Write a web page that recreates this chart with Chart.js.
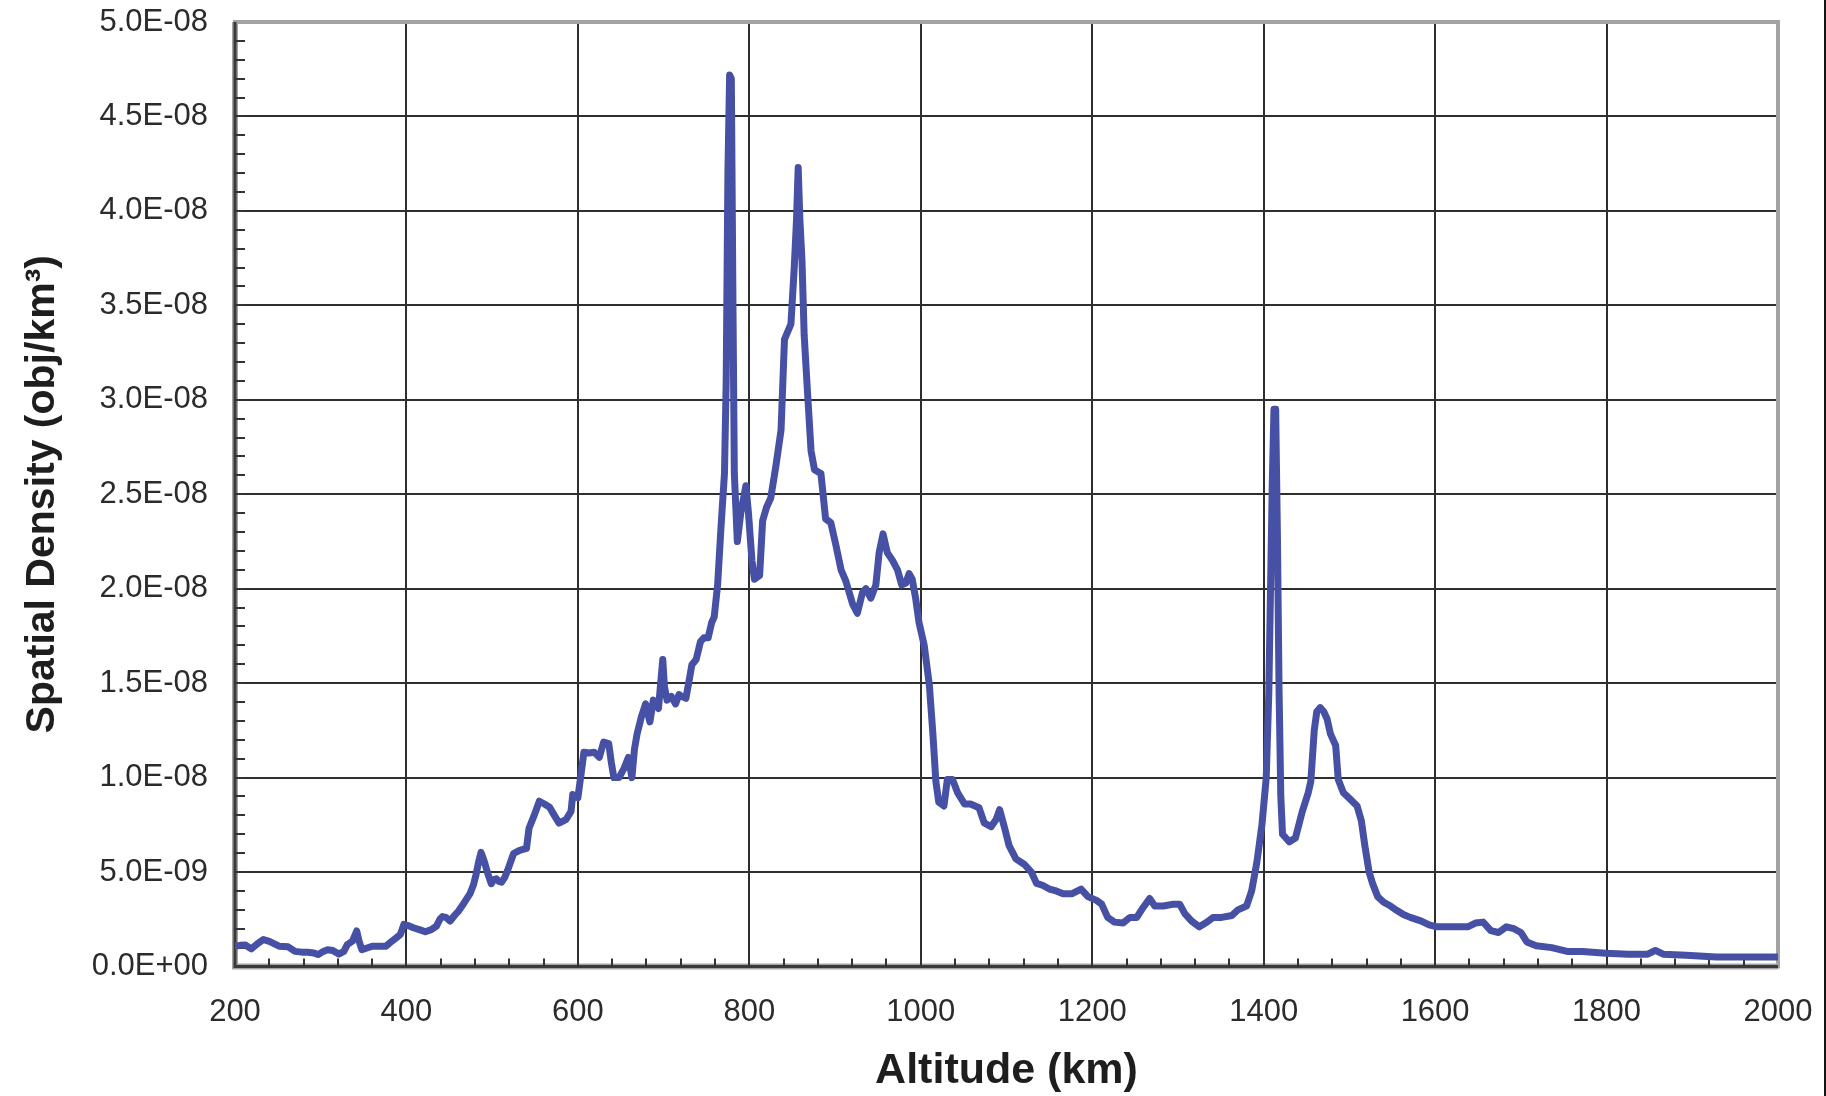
<!DOCTYPE html>
<html>
<head>
<meta charset="utf-8">
<title>Spatial Density vs Altitude</title>
<script src="https://cdn.jsdelivr.net/npm/chart.js@4.4.1/dist/chart.umd.min.js"></script>
<style>
  html, body { margin: 0; padding: 0; background: #ffffff; }
  #wrap { position: relative; width: 1826px; height: 1096px; overflow: hidden; }
  #edge { position: absolute; right: 0; top: 0; width: 2px; height: 1096px; background: #141414; }
</style>
</head>
<body>
<div id="wrap">
  <canvas id="chart" width="1826" height="1096"></canvas>
  <div id="edge"></div>
</div>
<script>
// Altitude samples (km)
const altitudeKm = [
  200, 206, 212, 219, 226, 233, 240, 246, 252, 262, 270, 278, 285, 292, 297, 303, 308, 314, 321, 327,
  331, 337, 342, 345, 348, 354, 360, 368, 376, 383, 389, 393, 397, 403, 408, 415, 422, 429, 435, 439,
  442, 446, 451, 456, 461, 467, 474, 478, 481, 484, 487, 489, 491, 495, 499, 502, 505, 508, 511, 515,
  518, 522, 525, 532, 540, 543, 549, 555, 561, 567, 572, 578, 586, 592, 594, 600, 604, 607, 613, 619,
  625, 630, 636, 639, 642, 648, 654, 659, 663, 666, 669, 674, 679, 684, 688, 694, 699, 701, 704, 709,
  714, 718, 721, 726, 730, 733, 738, 743, 747, 752, 756, 759, 763, 767, 771, 773, 775, 777, 779, 781,
  782.5, 786, 790, 796, 799, 803, 806, 812, 815.5, 820, 825, 831, 837, 841, 848.5, 852.4, 855, 857, 859, 861.4,
  864, 868, 872, 876, 883.5, 889, 895, 901, 907, 912.6, 920.4, 926, 932, 936, 941.7, 947.6, 951.4, 956, 961, 967,
  972.8, 977.8, 982.5, 986.4, 990, 994, 998, 1004, 1010, 1014, 1017.6, 1021, 1027, 1031, 1037, 1043, 1051, 1058, 1068, 1074,
  1082, 1088, 1092, 1098, 1103, 1111, 1121, 1129, 1135, 1142, 1150, 1158, 1166, 1176, 1187, 1195, 1205, 1211, 1218, 1226,
  1236, 1244, 1252, 1259, 1267, 1273, 1283, 1295, 1302, 1308, 1316, 1325, 1334, 1341, 1351, 1363, 1370, 1380, 1386, 1392,
  1398, 1403, 1406, 1408, 1410, 1412, 1414, 1416, 1418, 1420, 1422, 1430, 1437, 1445, 1452, 1455, 1459, 1462, 1466, 1470,
  1474, 1478, 1484, 1487, 1493, 1500, 1509, 1514, 1518, 1523, 1527, 1533, 1540, 1548, 1556, 1563, 1571, 1584, 1593, 1602,
  1620, 1638, 1647, 1656, 1665, 1674, 1683, 1692, 1700, 1707, 1718, 1736, 1754, 1772, 1799, 1826, 1848, 1857, 1866, 1893,
  1928, 1960, 2000
];

// Spatial density (obj/km^3) at each altitude sample
const spatialDensity = [
  1.07e-9, 1.12e-9, 1.14e-9, 0.93e-9, 1.20e-9, 1.43e-9, 1.33e-9, 1.20e-9, 1.07e-9, 1.04e-9, 0.80e-9, 0.76e-9, 0.75e-9, 0.72e-9, 0.63e-9, 0.80e-9, 0.89e-9, 0.85e-9, 0.66e-9, 0.80e-9,
  1.16e-9, 1.34e-9, 1.88e-9, 1.30e-9, 0.89e-9, 0.98e-9, 1.07e-9, 1.07e-9, 1.07e-9, 1.34e-9, 1.55e-9, 1.70e-9, 2.23e-9, 2.15e-9, 2.05e-9, 1.95e-9, 1.84e-9, 1.95e-9, 2.14e-9, 2.50e-9,
  2.64e-9, 2.60e-9, 2.41e-9, 2.70e-9, 2.95e-9, 3.35e-9, 3.84e-9, 4.30e-9, 4.82e-9, 5.50e-9, 6.04e-9, 5.80e-9, 5.54e-9, 4.90e-9, 4.38e-9, 4.60e-9, 4.64e-9, 4.50e-9, 4.46e-9, 4.75e-9,
  5.09e-9, 5.60e-9, 5.98e-9, 6.15e-9, 6.25e-9, 7.32e-9, 8.00e-9, 8.75e-9, 8.60e-9, 8.43e-9, 8.04e-9, 7.59e-9, 7.77e-9, 8.21e-9, 9.10e-9, 8.93e-9, 10.3e-9, 11.34e-9, 11.30e-9, 11.34e-9,
  11.07e-9, 11.88e-9, 11.80e-9, 10.8e-9, 10.0e-9, 10.0e-9, 10.5e-9, 11.07e-9, 10.0e-9, 11.5e-9, 12.3e-9, 13.2e-9, 13.9e-9, 12.95e-9, 14.1e-9, 13.66e-9, 16.25e-9, 14.8e-9, 14.1e-9, 14.3e-9,
  13.9e-9, 14.4e-9, 14.3e-9, 14.2e-9, 15.2e-9, 15.98e-9, 16.25e-9, 17.2e-9, 17.4e-9, 17.4e-9, 18.2e-9, 18.5e-9, 20.2e-9, 23.3e-9, 26.1e-9, 31.0e-9, 42.0e-9, 47.2e-9, 47.0e-9, 34.5e-9,
  26.1e-9, 22.5e-9, 24.0e-9, 25.45e-9, 24.0e-9, 21.5e-9, 20.5e-9, 20.7e-9, 23.6e-9, 24.3e-9, 24.8e-9, 26.5e-9, 28.4e-9, 33.2e-9, 34.0e-9, 37.0e-9, 39.5e-9, 42.3e-9, 39.5e-9, 37.4e-9,
  33.4e-9, 30.3e-9, 27.3e-9, 26.3e-9, 26.1e-9, 23.7e-9, 23.5e-9, 22.3e-9, 21.0e-9, 20.4e-9, 19.2e-9, 18.7e-9, 19.8e-9, 20.0e-9, 19.5e-9, 20.2e-9, 21.9e-9, 22.9e-9, 21.9e-9, 21.5e-9,
  21.0e-9, 20.2e-9, 20.3e-9, 20.8e-9, 20.5e-9, 19.5e-9, 18.2e-9, 17.0e-9, 14.9e-9, 12.4e-9, 9.8e-9, 8.7e-9, 8.5e-9, 9.9e-9, 9.9e-9, 9.2e-9, 8.6e-9, 8.6e-9, 8.4e-9, 7.6e-9,
  7.4e-9, 7.8e-9, 8.3e-9, 7.3e-9, 6.4e-9, 5.7e-9, 5.4e-9, 5.0e-9, 4.4e-9, 4.3e-9, 4.1e-9, 4.0e-9, 3.85e-9, 3.85e-9, 4.1e-9, 3.7e-9, 3.5e-9, 3.3e-9, 2.6e-9, 2.35e-9,
  2.3e-9, 2.6e-9, 2.6e-9, 3.1e-9, 3.6e-9, 3.2e-9, 3.2e-9, 3.3e-9, 3.3e-9, 2.8e-9, 2.4e-9, 2.1e-9, 2.35e-9, 2.6e-9, 2.6e-9, 2.7e-9, 3.0e-9, 3.2e-9, 4.0e-9, 5.5e-9,
  7.5e-9, 10.0e-9, 14.5e-9, 20.0e-9, 25.5e-9, 29.5e-9, 29.5e-9, 23.0e-9, 14.5e-9, 9.0e-9, 7.0e-9, 6.6e-9, 6.8e-9, 8.2e-9, 9.2e-9, 9.8e-9, 12.5e-9, 13.5e-9, 13.7e-9, 13.5e-9,
  13.1e-9, 12.3e-9, 11.7e-9, 9.9e-9, 9.2e-9, 8.9e-9, 8.5e-9, 7.7e-9, 6.4e-9, 5.0e-9, 4.4e-9, 3.7e-9, 3.4e-9, 3.2e-9, 2.95e-9, 2.75e-9, 2.6e-9, 2.4e-9, 2.2e-9, 2.1e-9,
  2.1e-9, 2.1e-9, 2.3e-9, 2.35e-9, 1.9e-9, 1.8e-9, 2.1e-9, 2.0e-9, 1.8e-9, 1.3e-9, 1.1e-9, 1.0e-9, 0.8e-9, 0.8e-9, 0.7e-9, 0.65e-9, 0.65e-9, 0.85e-9, 0.65e-9, 0.6e-9,
  0.5e-9, 0.5e-9, 0.5e-9
];

// Axis tick values and their labels
const altitudeTicks = [200, 400, 600, 800, 1000, 1200, 1400, 1600, 1800, 2000];
const densityTicks = [0, 5e-9, 1e-8, 1.5e-8, 2e-8, 2.5e-8, 3e-8, 3.5e-8, 4e-8, 4.5e-8, 5e-8];
const densityTickLabels = ['0.0E+00', '5.0E-09', '1.0E-08', '1.5E-08', '2.0E-08', '2.5E-08',
                           '3.0E-08', '3.5E-08', '4.0E-08', '4.5E-08', '5.0E-08'];

const FONT = "'Liberation Sans', Arial, Helvetica, sans-serif";
const PLOT_LEFT = 235, PLOT_TOP = 22, PLOT_RIGHT = 1778, PLOT_BOTTOM = 966.5;
const W = 1826, H = 1096;

// Frame around the plot plus the small inward tick marks on both axes
const frameAndTicks = {
  id: 'frameAndTicks',
  beforeDatasetsDraw(chart) {
    const { ctx, chartArea: a, scales } = chart;
    ctx.save();
    // light grey outer frame
    ctx.strokeStyle = '#a3a3a3';
    ctx.lineWidth = 4;
    ctx.strokeRect(a.left, a.top, a.right - a.left, a.bottom - a.top);
    // darker left and bottom axis lines
    ctx.lineWidth = 6;
    ctx.beginPath();
    ctx.moveTo(a.left, a.top); ctx.lineTo(a.left, a.bottom); ctx.lineTo(a.right, a.bottom);
    ctx.stroke();
    ctx.strokeStyle = '#3a3a3a';
    ctx.lineWidth = 3;
    ctx.beginPath();
    ctx.moveTo(a.left, a.top); ctx.lineTo(a.left, a.bottom); ctx.lineTo(a.right, a.bottom);
    ctx.stroke();
    // minor ticks
    ctx.strokeStyle = '#333333';
    ctx.lineWidth = 2;
    ctx.beginPath();
    const ys = scales.y, xs = scales.x;
    for (let i = 1; i < 50; i++) {
      const py = Math.round(ys.getPixelForValue(i * 1e-9));
      ctx.moveTo(a.left, py); ctx.lineTo(a.left + 10, py);
    }
    for (let k = 240; k < 2000; k += 40) {
      const px = Math.round(xs.getPixelForValue(k));
      ctx.moveTo(px, a.bottom); ctx.lineTo(px, a.bottom - 8);
    }
    ctx.stroke();
    ctx.restore();
  }
};

const points = altitudeKm.map((x, i) => ({ x, y: spatialDensity[i] }));

new Chart(document.getElementById('chart'), {
  type: 'line',
  data: {
    datasets: [{
      data: points,
      borderColor: '#4650a4',
      borderWidth: 7,
      pointRadius: 0,
      tension: 0,
      fill: false,
      borderJoinStyle: 'round',
      borderCapStyle: 'round'
    }]
  },
  options: {
    responsive: false,
    animation: false,
    devicePixelRatio: 1,
    events: [],
    layout: { padding: { left: 0, top: PLOT_TOP, right: W - PLOT_RIGHT, bottom: 0 } },
    plugins: { legend: { display: false }, tooltip: { enabled: false }, title: { display: false } },
    scales: {
      x: {
        type: 'linear',
        min: 200, max: 2000,
        afterFit(scale) {
          scale.height = H - PLOT_BOTTOM;
          scale.paddingLeft = 0; scale.paddingRight = 0;
        },
        afterBuildTicks(scale) { scale.ticks = altitudeTicks.map(v => ({ value: v })); },
        border: { display: false },
        grid: { color: '#2e2e2e', lineWidth: 2, drawTicks: false },
        ticks: {
          padding: 27,
          color: '#2b2b2b',
          font: { family: FONT, size: 31 },
          maxRotation: 0,
          autoSkip: false,
          callback: (v, i) => String(altitudeTicks[i])
        },
        title: {
          display: true,
          text: 'Altitude (km)',
          color: '#1e1e1e',
          font: { family: FONT, size: 43, weight: 'bold', lineHeight: 1 },
          padding: { top: 0, bottom: 3 }
        }
      },
      y: {
        type: 'linear',
        min: 0, max: 5e-8,
        afterFit(scale) {
          scale.width = PLOT_LEFT;
          scale.paddingTop = 0; scale.paddingBottom = 0;
        },
        afterBuildTicks(scale) { scale.ticks = densityTicks.map(v => ({ value: v })); },
        border: { display: false },
        grid: { color: '#2e2e2e', lineWidth: 2, drawTicks: false },
        ticks: {
          padding: 27,
          color: '#2b2b2b',
          font: { family: FONT, size: 31 },
          autoSkip: false,
          callback: (v, i) => densityTickLabels[i]
        },
        title: {
          display: true,
          text: 'Spatial Density (obj/km³)',
          color: '#1e1e1e',
          font: { family: FONT, size: 41, weight: 'bold', lineHeight: 1 },
          padding: { top: 22, bottom: 0 }
        }
      }
    }
  },
  plugins: [frameAndTicks]
});
</script>
</body>
</html>
